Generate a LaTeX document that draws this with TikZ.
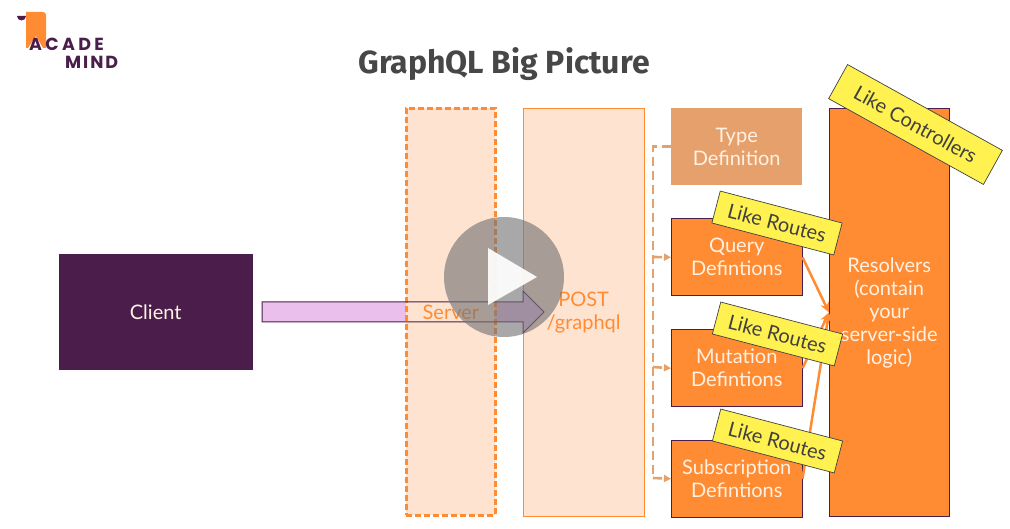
\documentclass[tikz,border=0pt]{standalone}
\usepackage{fontspec}
\setmainfont{Lato}
\newfontfamily\titlefont{Fira Sans}
\newfontfamily\acadefont[LetterSpace=19]{Poppins}
\newfontfamily\mindfont[LetterSpace=11]{Poppins}
\usetikzlibrary{arrows.meta}
\definecolor{mindpurple}{HTML}{4B1D4B}
\definecolor{mindorange}{HTML}{FF8C33}
\definecolor{mindpeach}{HTML}{FFE3D1}
\definecolor{mindtan}{HTML}{E5A06B}
\definecolor{mindpink}{HTML}{EBBFEB}
\definecolor{mindyellow}{HTML}{FFF14F}
\definecolor{mindtext}{HTML}{FFF1E3}
\tikzset{
  panel/.style={rectangle, anchor=north west, inner sep=0pt, align=center, text=mindtext, font=\fontsize{20}{23}\selectfont},
  lowtext/.style={execute at begin node={\rule{0pt}{18.5pt}}},
  defbox/.style={panel, lowtext, draw=mindpurple, fill=mindorange, line width=1pt, minimum width=130.5pt, minimum height=76.5pt},
  likenote/.style={rectangle, draw=black!75, fill=mindyellow, line width=0.7pt, text=black!75, inner sep=0pt, font=\fontsize{20}{23}\selectfont},
  busline/.style={mindtan, line width=2.6pt, dash pattern=on 9pt off 5pt},
  busarrow/.style={mindtan, line width=2.6pt, dash pattern=on 9pt off 5pt, -{Triangle[length=7pt,width=7pt]}},
  tolink/.style={mindorange, line width=2.5pt, -{Stealth[length=10pt,width=9pt]}}
}
\begin{document}
\begin{tikzpicture}[x=1pt, y=-1pt]
  \useasboundingbox (0,0) rectangle (1010,529);
  % Logo
  \fill[mindorange] (26,12) -- (43,12) to[out=0,in=90] (46,15) -- (46,48) -- (43,48) -- (36,36) -- (28,48) -- (26,48) -- cycle;
  \fill[mindpurple] (17,16) arc[start angle=180, end angle=0, radius=4.5] -- cycle;
  \node[text=mindpurple, anchor=west, inner sep=0pt, font=\acadefont\bfseries\fontsize{17.5}{17.5}\selectfont] (acade) at (29,44) {ACADE};
  \node[text=mindpurple, anchor=west, inner sep=0pt, font=\mindfont\bfseries\fontsize{17.5}{17.5}\selectfont] (mind) at (65,62) {MIND};
  % Title
  \node[text=black!72, inner sep=0pt, font=\titlefont\bfseries\fontsize{32}{36}\selectfont] (title) at (504,64) {GraphQL Big Picture};
  % Client and the two server panels
  \node[panel, draw=mindpurple, fill=mindpurple, minimum width=193pt, minimum height=115pt] (client) at (59,254.5) {Client};
  \node[panel, lowtext, draw=mindorange, fill=mindpeach, line width=0.8pt, minimum width=120.5pt, minimum height=408pt, text=mindorange] (post) at (523,108) {POST\\/graphql};
  % Request arrow
  \fill[mindpink] (262,302) -- (523,302) -- (523,291) -- (544,312) -- (523,333) -- (523,322) -- (262,322) -- cycle;
  \node[panel, draw=mindorange, fill=mindpeach, line width=2.8pt, dash pattern=on 6pt off 3pt, minimum width=89pt, minimum height=407pt, text=mindorange] (server) at (405,107) {Server};
  \draw[mindpurple, line width=1pt] (262,302) -- (523,302) -- (523,291) -- (544,312) -- (523,333) -- (523,322) -- (262,322) -- cycle;
  % Definitions
  \node[panel, lowtext, fill=mindtan, minimum width=131pt, minimum height=77pt] (type) at (671,108) {Type\\Definition};
  \node[defbox] (query) at (671,218.5) {Query\\Defintions};
  \node[defbox] (mutation) at (671,329.5) {Mutation\\Defintions};
  \node[defbox] (subscription) at (671,440) {Subscription\\Defintions};
  \node[panel, lowtext, draw=mindpurple, fill=mindorange, line width=1pt, minimum width=119.5pt, minimum height=408pt] (resolvers) at (829,108) {Resolvers\\(contain\\your\\server-side\\logic)};
  % Dashed bus on the left of the definitions
  \coordinate (busq) at (653,257);
  \coordinate (busm) at (653,367);
  \coordinate (buss) at (653,478);
  \draw[busline] (type.west) -| (buss);
  \foreach \d/\b in {query/busq, mutation/busm, subscription/buss} {
    \draw[busarrow] (\b) -- (\d.west);
  }
  % Links into the resolvers
  \foreach \d in {query, mutation, subscription} {
    \draw[tolink] (\d.east) -- (resolvers.west);
  }
  % Notes
  \node[likenote, rotate=-29, minimum width=177pt, minimum height=39pt] (notectrl) at (915.5,124.5) {Like Controllers};
  \node[likenote, rotate=-14.7, minimum width=126pt, minimum height=33pt] (noteq) at (777,223) {Like Routes};
  \node[likenote, rotate=-14.7, minimum width=126pt, minimum height=33pt] (notem) at (777.5,334) {Like Routes};
  \node[likenote, rotate=-14.7, minimum width=126pt, minimum height=33pt] (notes) at (777.5,441) {Like Routes};
  % Play button
  \fill[black!55, opacity=0.62] (504,277) circle[radius=60];
  \fill[white, opacity=0.92] (488,248) -- (537,277) -- (488,305) -- cycle;
\end{tikzpicture}
\end{document}
